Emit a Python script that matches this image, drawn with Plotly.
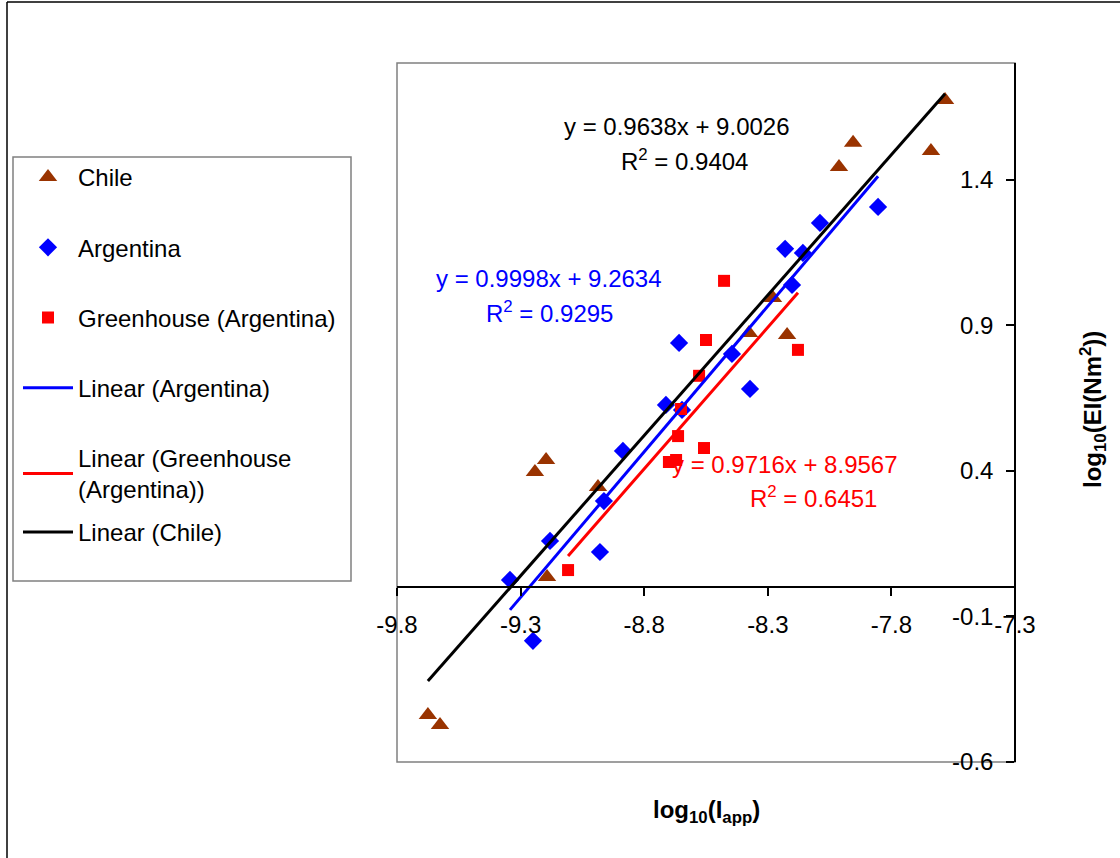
import plotly.graph_objects as go

# ---------------- data ----------------
chile_x = [-9.675, -9.626, -9.242, -9.197, -9.193, -8.987, -8.376, -8.279, -8.222, -8.012, -7.955, -7.640, -7.583]
chile_y = [-0.439, -0.473, 0.396, 0.437, 0.035, 0.344, 0.873, 0.993, 0.866, 1.443, 1.526, 1.498, 1.673]

arg_x = [-9.343, -9.250, -9.181, -8.979, -8.963, -8.886, -8.712, -8.659, -8.647, -8.445, -8.372, -8.230, -8.202, -8.158, -8.089, -7.854]
arg_y = [0.025, -0.184, 0.159, 0.121, 0.296, 0.468, 0.626, 0.839, 0.609, 0.801, 0.681, 1.162, 1.038, 1.148, 1.251, 1.306]

gh_x = [-9.108, -8.700, -8.671, -8.663, -8.651, -8.578, -8.558, -8.550, -8.477, -8.178]
gh_y = [0.059, 0.430, 0.437, 0.519, 0.612, 0.726, 0.478, 0.849, 1.052, 0.815]

# trend-line coefficients (as printed on the chart)
chile_fit = (0.9638, 9.0026, 0.9404)
arg_fit = (0.9998, 9.2634, 0.9295)
gh_fit = (0.9716, 8.9567, 0.6451)

x_ticks = [-9.8, -9.3, -8.8, -8.3, -7.8, -7.3]
y_ticks = [-0.6, -0.1, 0.4, 0.9, 1.4]

# ---------------- layout helpers ----------------
W, H = 1120, 858
PL, PR, PT, PB = 397, 1015, 63, 762  # plot area in screen pixels


def px(x):
    return (x - PL) / (PR - PL)


def py(y):
    return (PB - y) / (PB - PT)


FONT = "Arial, Liberation Sans, sans-serif"
FS = 24

fig = go.Figure()

fig.add_trace(go.Scatter(x=chile_x, y=chile_y, mode="markers", name="Chile",
                         marker=dict(symbol="triangle-up", size=16, color="#993300"),
                         legendgroup="a"))
fig.add_trace(go.Scatter(x=arg_x, y=arg_y, mode="markers", name="Argentina",
                         marker=dict(symbol="diamond", size=14, color="#0000FF"),
                         legendgroup="b"))
fig.add_trace(go.Scatter(x=gh_x, y=gh_y, mode="markers", name="Greenhouse (Argentina)",
                         marker=dict(symbol="square", size=12, color="#FF0000"),
                         legendgroup="c"))


def fit_line(xs, fit):
    lo, hi = min(xs), max(xs)
    return [lo, hi], [fit[0] * lo + fit[1], fit[0] * hi + fit[1]]


lx, ly = fit_line(arg_x, arg_fit)
fig.add_trace(go.Scatter(x=lx, y=ly, mode="lines", name="Linear (Argentina)",
                         line=dict(color="#0000FF", width=3), legendgroup="d"))
lx, ly = fit_line(gh_x, gh_fit)
fig.add_trace(go.Scatter(x=lx, y=ly, mode="lines", name="Linear (Greenhouse<br>(Argentina))",
                         line=dict(color="#FF0000", width=3), legendgroup="e"))
lx, ly = fit_line(chile_x, chile_fit)
fig.add_trace(go.Scatter(x=lx, y=ly, mode="lines", name="Linear (Chile)",
                         line=dict(color="#000000", width=3), legendgroup="f",
                         legend="legend2"))


def eq_text(fit):
    return f"y = {fit[0]:.4f}x + {fit[1]:.4f}", f"R<sup>2</sup> = {fit[2]:.4f}"


annotations = []


def add_eq(fit, color, p1, p2):
    t1, t2 = eq_text(fit)
    annotations.append(dict(x=px(p1[0]), y=py(p1[1]), xref="paper", yref="paper", text=t1,
                            showarrow=False, font=dict(size=FS, color=color, family=FONT),
                            xanchor="center", yanchor="middle"))
    annotations.append(dict(x=px(p2[0]), y=py(p2[1]), xref="paper", yref="paper", text=t2,
                            showarrow=False, font=dict(size=FS, color=color, family=FONT),
                            xanchor="center", yanchor="middle"))


add_eq(chile_fit, "#000000", (677, 126), (684, 160))
add_eq(arg_fit, "#0000FF", (549, 278), (549, 312))
add_eq(gh_fit, "#FF0000", (785, 464), (813, 497))

annotations.append(dict(x=px(706), y=py(811), xref="paper", yref="paper",
                        text="<b>log<sub>10</sub>(I<sub>app</sub>)</b>", showarrow=False,
                        font=dict(size=FS, color="#000000", family=FONT),
                        xanchor="center", yanchor="middle"))
annotations.append(dict(x=px(1093), y=py(410), xref="paper", yref="paper",
                        text="<b>log<sub>10</sub>(EI(Nm<sup>2</sup>))</b>", showarrow=False,
                        textangle=-90,
                        font=dict(size=FS, color="#000000", family=FONT),
                        xanchor="center", yanchor="middle"))

shapes = [
    # plot-area border
    dict(type="rect", xref="paper", yref="paper", x0=0, x1=1, y0=0, y1=1,
         line=dict(color="#808080", width=1.5), layer="below"),
    # legend box
    dict(type="rect", xref="paper", yref="paper", x0=px(13), x1=px(351), y0=py(581), y1=py(157),
         line=dict(color="#808080", width=1.5)),
    # chart-area border (left & top)
    dict(type="line", xref="paper", yref="paper", x0=px(7), x1=px(7), y0=py(2), y1=py(870),
         line=dict(color="#000000", width=1.5)),
    dict(type="line", xref="paper", yref="paper", x0=px(7), x1=px(1130), y0=py(2), y1=py(2),
         line=dict(color="#000000", width=1.5)),
]

legend_common = dict(xanchor="left", yanchor="top", borderwidth=0,
                     bgcolor="rgba(0,0,0,0)", font=dict(size=FS, family=FONT),
                     tracegroupgap=36, itemwidth=50, traceorder="grouped")

fig.update_layout(
    width=W, height=H,
    margin=dict(l=PL, r=W - PR, t=PT, b=H - PB, autoexpand=False),
    paper_bgcolor="white", plot_bgcolor="white",
    font=dict(family=FONT, size=FS, color="#000000"),
    showlegend=True,
    legend=dict(x=px(18), y=py(155), **legend_common),
    legend2=dict(x=px(18), y=py(510), **legend_common),
    xaxis=dict(range=[-9.8, -7.3], tickvals=x_ticks, ticktext=[f"{v:.1f}" for v in x_ticks],
               showgrid=False, zeroline=False, showline=True, linecolor="#000000", linewidth=1.5,
               ticks="outside", ticklen=8, tickcolor="#000000", tickwidth=1.5,
               anchor="free", position=(0 - (-0.6)) / (1.8 - (-0.6)),
               ticklabelstandoff=8,
               tickfont=dict(size=FS, family=FONT)),
    yaxis=dict(range=[-0.6, 1.8], tickvals=y_ticks, ticktext=[f"{v:.1f}" for v in y_ticks],
               showgrid=False, zeroline=False, showline=True, linecolor="#000000", linewidth=1.5,
               side="left", anchor="free", position=1.0,
               ticks="outside", ticklen=8, tickcolor="#000000", tickwidth=1.5,
               ticklabelstandoff=8,
               tickfont=dict(size=FS, family=FONT)),
    annotations=annotations,
    shapes=shapes,
)

# remove the default 8px page margin so the figure sits at the window's top-left corner
fig.write_html("out.html", config={"displayModeBar": False},
               post_script="document.body.style.margin='0';")
